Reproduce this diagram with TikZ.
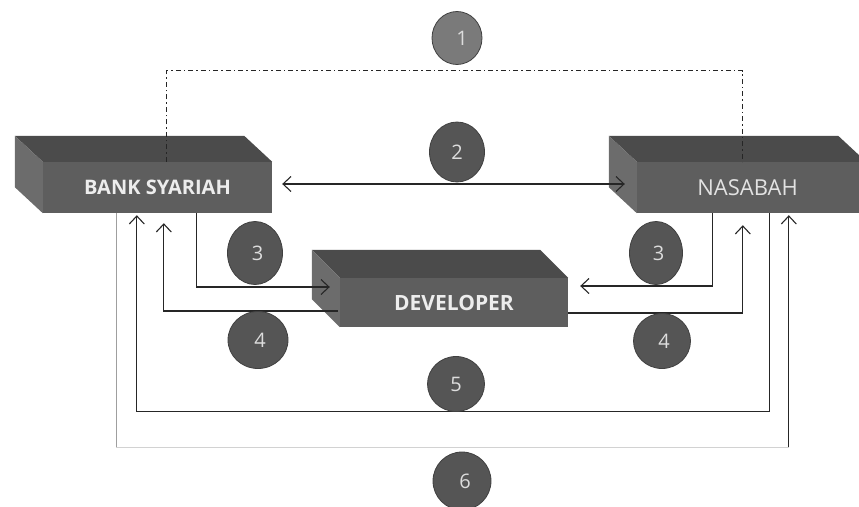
\documentclass[tikz,border=0pt]{standalone}
\usepackage{fontspec}
\setmainfont{Open Sans}
\usetikzlibrary{arrows.meta,shapes.geometric,calc}
\definecolor{topface}{HTML}{4B4B4B}
\definecolor{frontface}{HTML}{5E5E5E}
\definecolor{sideface}{HTML}{6C6C6C}
\definecolor{label}{HTML}{EDEDED}
\definecolor{dotfill}{HTML}{555555}
\definecolor{dotfilllight}{HTML}{7A7A7A}
\definecolor{wire}{HTML}{262626}
\tikzset{
	blockface/.style={fill=frontface, minimum width=229pt, minimum height=51pt, inner sep=0pt,
		text=label, font=\fontsize{21}{24}\selectfont},
	numdot/.style={ellipse, draw=black!75, fill=dotfill, line width=0.8pt, inner sep=0pt,
		text=label!85!gray, font=\fontsize{20}{22}\selectfont},
	flow/.style={draw=wire, line width=1.1pt, -{Straight Barb[length=8pt,width=15pt]}},
	wire/.style={draw=wire, line width=1.1pt}
}
% extruded faces behind a front face node
\newcommand{\blockdepth}[3]{%
	\fill[topface] (#1.north west) -- ++(#2,#3) -- ($(#1.north east)+(#2,#3)$) -- (#1.north east) -- cycle;
	\fill[sideface] (#1.north west) -- ++(#2,#3) -- ($(#1.south west)+(#2,#3)$) -- (#1.south west) -- cycle;
}
\begin{document}
\begin{tikzpicture}[x=1pt,y=-1pt]
	\useasboundingbox (0,0) rectangle (859,506);
	\begin{scope}
		\clip (0,0) rectangle (859,506);
		\node[blockface, font=\fontsize{20}{24}\selectfont\bfseries] (bank) at (157.5,187.5) {BANK SYARIAH};
		\node[blockface, text=label!90!gray, font=\fontsize{22}{24}\selectfont] (nas) at (751.5,187.5) {\hspace{-8pt}NASABAH};
		\node[blockface, minimum width=228pt, minimum height=49pt, font=\fontsize{21}{24}\selectfont\bfseries] (dev) at (454,302.5) {DEVELOPER};
		\blockdepth{bank}{-28}{-26}
		\blockdepth{nas}{-28}{-26}
		\blockdepth{dev}{-28}{-28}
	\end{scope}

	\draw[wire, line width=1.3pt, dash pattern=on 5pt off 3pt on 1.5pt off 3pt] ([xshift=124pt]bank.north west) -- ++(0,-91) -| ([xshift=106pt]nas.north west);
	\draw[flow, {Straight Barb[length=8pt,width=15pt]}-{Straight Barb[length=8pt,width=15pt]}] ([xshift=10pt,yshift=3.5pt]bank.east) -- ([xshift=-12pt,yshift=3.5pt]nas.west);

	\draw[flow] ([xshift=154pt]bank.south west) |- ([xshift=-10pt,yshift=15.5pt]dev.west);
	\draw[flow] ([xshift=76pt]nas.south west) |- ([xshift=12pt,yshift=16.5pt]dev.east);
	\draw[flow] ([xshift=-2pt,yshift=-8.5pt]dev.west) -| ([xshift=121pt,yshift=-10pt]bank.south west);
	\draw[flow] ([yshift=-10.5pt]dev.east) -| ([xshift=106pt,yshift=-12pt]nas.south west);

	\draw[flow] ([xshift=133pt]nas.south west) -- ++(0,198) -| ([xshift=94pt,yshift=-2pt]bank.south west);
	\coordinate (sixa) at ([xshift=74pt]bank.south west);
	\coordinate (sixb) at ([xshift=152pt,yshift=-2pt]nas.south west);
	\coordinate (sixc) at ($(sixa)+(0,234)$);
	\draw[gray!35, line width=1.1pt] (sixa) -- (sixc) -| (sixb);
	\draw[gray!75, line width=1.1pt] (sixa) -- (sixc);
	\draw[flow] (sixc -| sixb) -- (sixb);

	\node[numdot, fill=dotfilllight, minimum width=50pt, minimum height=53pt] (n1) at (457,38) {\hspace{10pt}1};
	\node[numdot, minimum width=55pt, minimum height=60pt] (n2) at (457,152) {2};
	\node[numdot, minimum width=55pt, minimum height=63pt] (n3a) at (255,253) {\hspace{5pt}3};
	\node[numdot, minimum width=53pt, minimum height=63pt] (n3b) at (656,253) {\hspace{5pt}3};
	\node[numdot, minimum width=60pt, minimum height=57pt] (n4a) at (258,340) {\hspace{4pt}4};
	\node[numdot, minimum width=57pt, minimum height=55pt] (n4b) at (662,341) {\hspace{4pt}4};
	\node[numdot, minimum width=57pt, minimum height=55pt] (n5) at (456,384) {5};
	\node[numdot, minimum width=58pt, minimum height=58pt] (n6) at (462,481) {\hspace{6pt}6};
\end{tikzpicture}
\end{document}
